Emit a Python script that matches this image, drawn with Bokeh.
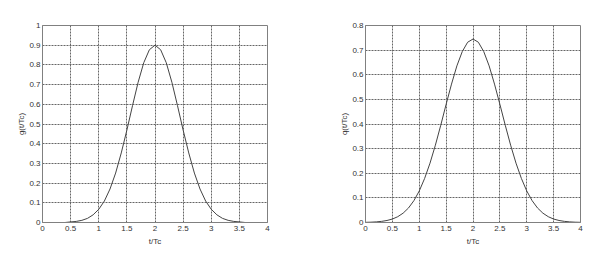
from bokeh.plotting import figure
from bokeh.layouts import row
from bokeh.models import FixedTicker, Range1d
from bokeh.embed import file_html
from bokeh.resources import INLINE

t = [0.0, 0.1, 0.2, 0.3, 0.4, 0.5, 0.6, 0.7, 0.8, 0.9, 1.0, 1.1, 1.2, 1.3, 1.4,
     1.5, 1.6, 1.7, 1.8, 1.9, 2.0, 2.1, 2.2, 2.3, 2.4, 2.5, 2.6, 2.7, 2.8, 2.9,
     3.0, 3.1, 3.2, 3.3, 3.4, 3.5, 3.6, 3.7, 3.8, 3.9, 4.0]
g_left = [0.0, 0.0, 0.0, 0.0, 0.0, 0.003, 0.0055, 0.011, 0.021, 0.039, 0.067,
          0.109, 0.170, 0.251, 0.353, 0.469, 0.593, 0.712, 0.811, 0.877, 0.900,
          0.877, 0.811, 0.712, 0.593, 0.469, 0.353, 0.251, 0.170, 0.109, 0.067,
          0.039, 0.021, 0.011, 0.0055, 0.003, 0.0, 0.0, 0.0, 0.0, 0.0]
g_right = [0.0007, 0.0013, 0.0025, 0.0046, 0.0082, 0.014, 0.0236, 0.038, 0.059,
           0.0886, 0.128, 0.179, 0.241, 0.314, 0.395, 0.480, 0.562, 0.636, 0.694,
           0.732, 0.745, 0.732, 0.694, 0.636, 0.562, 0.480, 0.395, 0.314, 0.241,
           0.179, 0.128, 0.0886, 0.059, 0.038, 0.0236, 0.014, 0.0082, 0.0046,
           0.0025, 0.0013, 0.0007]
x_ticks = [0, 0.5, 1, 1.5, 2, 2.5, 3, 3.5, 4]
y_ticks_left = [0, 0.1, 0.2, 0.3, 0.4, 0.5, 0.6, 0.7, 0.8, 0.9, 1]
y_ticks_right = [0, 0.1, 0.2, 0.3, 0.4, 0.5, 0.6, 0.7, 0.8]
x_label = "t/Tc"
y_label_left = "g(t/Tc)"
y_label_right = "q(t/Tc)"

FONT = "Liberation Sans"


def make(x, y, yt, ymax, ylab, width, left, right, top, bottom):
    p = figure(width=width, height=254, output_backend="svg", toolbar_location=None,
               x_range=Range1d(0, 4), y_range=Range1d(0, ymax),
               min_border_left=left, min_border_right=right,
               min_border_top=top, min_border_bottom=bottom)
    p.line(x, y, line_color="#444444", line_width=1)
    p.xaxis.ticker = FixedTicker(ticks=x_ticks)
    p.yaxis.ticker = FixedTicker(ticks=yt)
    p.xaxis.major_label_overrides = {v: ("%g" % v) for v in x_ticks}
    p.yaxis.major_label_overrides = {v: ("%g" % v) for v in yt}
    p.xaxis.axis_label = x_label
    p.yaxis.axis_label = ylab
    for ax in (p.xaxis[0], p.yaxis[0]):
        ax.axis_line_color = "#808080"
        ax.major_tick_in = 0
        ax.major_tick_out = 0
        ax.minor_tick_in = 0
        ax.minor_tick_out = 0
        ax.major_label_text_font = FONT
        ax.major_label_text_font_size = "8px"
        ax.major_label_text_color = "#333333"
        ax.axis_label_text_font = FONT
        ax.axis_label_text_font_size = "8px"
        ax.axis_label_text_font_style = "normal"
        ax.axis_label_text_color = "#333333"
    p.xaxis.major_label_standoff = 3
    p.yaxis.major_label_standoff = 2
    p.xaxis.axis_label_standoff = 3
    p.yaxis.axis_label_standoff = 0
    p.xgrid.grid_line_color = "#666666"
    p.ygrid.grid_line_color = "#666666"
    p.xgrid.grid_line_dash = "2 1"
    p.ygrid.grid_line_dash = "2 1"
    p.outline_line_color = "#808080"
    p.outline_line_width = 1
    p.background_fill_color = "white"
    p.border_fill_color = "white"
    return p


p1 = make(t, g_left, y_ticks_left, 1.0, y_label_left, 300, 42, 33, 23, 31)
p2 = make(t, g_right, y_ticks_right, 0.8, y_label_right, 316, 65, 36, 25, 32)
layout = row(p1, p2)

open("out.html", "w").write(file_html(layout, INLINE))
